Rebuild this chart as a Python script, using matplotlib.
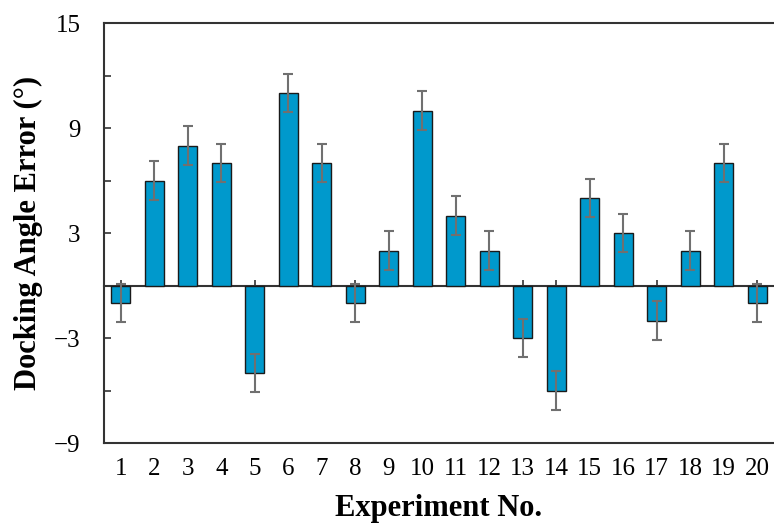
import matplotlib
matplotlib.use("Agg")
import matplotlib.pyplot as plt
import numpy as np

experiments = list(range(1, 21))
angle_error = [-1, 6, 8, 7, -5, 11, 7, -1, 2, 10, 4, 2, -3, -6, 5, 3, -2, 2, 7, -1]
error_bar = [1.1] * 20
y_major = [15, 9, 3, -3, -9]
y_minor = [12, 6, 0, -6]

plt.rcParams['font.family'] = ['Liberation Serif', 'DejaVu Serif']

fig = plt.figure(figsize=(7.74, 5.25), dpi=100)
ax = fig.add_axes([0.1344, 0.156, 0.8656, 0.8])

ax.bar(experiments, angle_error, width=0.58, color='#0099CC', edgecolor='#1a1a1a',
       linewidth=1.0, zorder=2)
ax.errorbar(experiments, angle_error, yerr=error_bar, fmt='none', ecolor='#707070',
            elinewidth=1.5, capsize=3.5, capthick=1.5, zorder=3)

ax.set_xlim(0.5, 20.5)
ax.set_ylim(-9, 15)
ax.set_yticks(y_major)
ax.set_yticks(y_minor, minor=True)
ax.set_yticklabels([str(v).replace('-', '\u2212') for v in y_major])
ax.set_xticks(experiments)
ax.set_xticklabels([str(e) for e in experiments])

ax.tick_params(axis='y', which='both', direction='in', length=5, width=1.2,
               color='#333333', labelsize=18, pad=17)
ax.tick_params(axis='x', which='both', length=0, labelsize=18, pad=11)

for s in ['left', 'top', 'bottom']:
    ax.spines[s].set_linewidth(1.5)
    ax.spines[s].set_color('#333333')
ax.spines['right'].set_visible(False)

# zero axis with inward ticks
sec = ax.secondary_xaxis(9 / 24)
sec.set_xticks(experiments)
sec.tick_params(axis='x', direction='in', length=4, width=1.2, color='#333333',
                labelbottom=False, labeltop=False)
sec.spines['bottom'].set_linewidth(1.5)
sec.spines['bottom'].set_color('#333333')

ax.set_xlabel('Experiment No.', fontsize=22, fontweight='bold', labelpad=10)
ax.set_ylabel('Docking Angle Error (°)', fontsize=22, fontweight='bold', labelpad=8)

fig.savefig('out.png', dpi=100)
